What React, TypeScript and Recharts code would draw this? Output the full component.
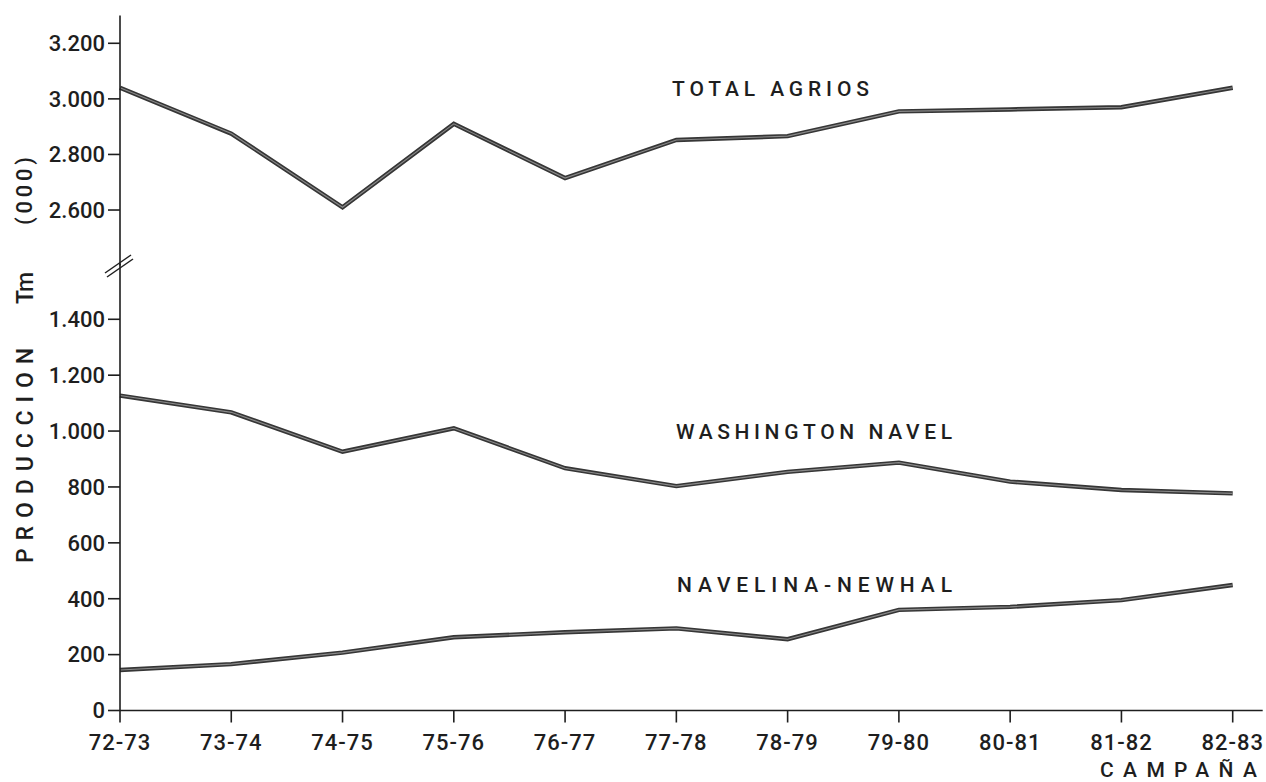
import React from 'react';
import { LineChart, Line, XAxis, YAxis } from 'recharts';

const seasons = ['72-73', '73-74', '74-75', '75-76', '76-77', '77-78', '78-79', '79-80', '80-81', '81-82', '82-83'];
const totalAgrios = [3040, 2875, 2610, 2910, 2715, 2852, 2866, 2955, 2962, 2970, 3040];
const washingtonNavel = [1127, 1067, 926, 1010, 867, 803, 854, 887, 819, 789, 777];
const navelinaNewhal = [145, 166, 207, 262, 280, 294, 255, 360, 371, 395, 449];

const upperTicks = [2600, 2800, 3000, 3200];
const lowerTicks = [0, 200, 400, 600, 800, 1000, 1200, 1400];

const data = seasons.map((s, i) => ({
  season: s,
  total: totalAgrios[i],
  washington: washingtonNavel[i],
  navelina: navelinaNewhal[i],
}));

const W = 1266;
const H = 782;
const FONT = 'Roboto, "Liberation Sans", sans-serif';
const INK = '#1e1e1e';
const LINE_OUT = '#363636';
const LINE_IN = '#8a8a8a';

const fmt = (v: number) =>
  v >= 1000 ? `${Math.floor(v / 1000)}.${String(v % 1000).padStart(3, '0')}` : String(v);

const tickStyle = { fontSize: 22, fill: INK, fontFamily: FONT, fontWeight: 500 };
const axisLine = { stroke: INK, strokeWidth: 1.6 };
const xPad = { left: 0, right: 30 };

function series(key: string) {
  return [
    <Line key={key + 'o'} type="linear" dataKey={key} stroke={LINE_OUT} strokeWidth={4.4} dot={false} isAnimationActive={false} />,
    <Line key={key + 'i'} type="linear" dataKey={key} stroke={LINE_IN} strokeWidth={1.1} dot={false} isAnimationActive={false} />,
  ];
}

export default function App() {
  return (
    <div style={{ position: 'absolute', left: 0, top: 0, width: W, height: H, background: '#fff', overflow: 'hidden' }}>
      <div style={{ position: 'absolute', left: 0, top: 0 }}>
        <LineChart width={W} height={H} data={data} margin={{ top: 15.5, right: 3.3, bottom: 516.4, left: 0 }}>
          <XAxis dataKey="season" hide padding={xPad} />
          <YAxis
            width={120}
            domain={[2400, 3300]}
            ticks={upperTicks}
            tickFormatter={fmt}
            allowDataOverflow
            tick={tickStyle}
            tickSize={12}
            tickMargin={3}
            axisLine={axisLine}
            tickLine={axisLine}
          />
          {series('total')}
        </LineChart>
      </div>
      <div style={{ position: 'absolute', left: 0, top: 0 }}>
        <LineChart width={W} height={H} data={data} margin={{ top: 263.4, right: 3.3, bottom: 31.5, left: 0 }}>
          <XAxis
            dataKey="season"
            padding={xPad}
            height={40}
            interval={0}
            tick={{ ...tickStyle, letterSpacing: 1 }}
            tickSize={12}
            tickMargin={12}
            axisLine={axisLine}
            tickLine={axisLine}
          />
          <YAxis
            width={120}
            domain={[0, 1600]}
            ticks={lowerTicks}
            tickFormatter={fmt}
            allowDataOverflow
            tick={tickStyle}
            tickSize={12}
            tickMargin={3}
            axisLine={axisLine}
            tickLine={axisLine}
          />
          {series('washington')}
          {series('navelina')}
        </LineChart>
      </div>
      <svg width={W} height={H} style={{ position: 'absolute', left: 0, top: 0, pointerEvents: 'none' }}>
        <g fill={INK} fontFamily={FONT} fontWeight={500}>
          <text x={672} y={96} fontSize={21} textLength={197} lengthAdjust="spacing">TOTAL AGRIOS</text>
          <text x={676} y={439} fontSize={21} textLength={276} lengthAdjust="spacing">WASHINGTON NAVEL</text>
          <text x={677} y={592} fontSize={21} textLength={275} lengthAdjust="spacing">NAVELINA-NEWHAL</text>
          <text x={1100} y={777} fontSize={21} textLength={157} lengthAdjust="spacing">CAMPAÑA</text>
          <text transform="translate(33,563) rotate(-90)" fontSize={23} textLength={215} lengthAdjust="spacing">PRODUCCION</text>
          <text transform="translate(33,304) rotate(-90)" fontSize={23} textLength={32} lengthAdjust="spacing">Tm</text>
          <text transform="translate(32,225) rotate(-90)" fontSize={22} textLength={68} lengthAdjust="spacing">(000)</text>
        </g>
        <g stroke={INK} strokeWidth={1.5}>
          <line x1={105} y1={273} x2={131} y2={255} />
          <line x1={107} y1={277} x2={133} y2={259} />
        </g>
      </svg>
    </div>
  );
}
